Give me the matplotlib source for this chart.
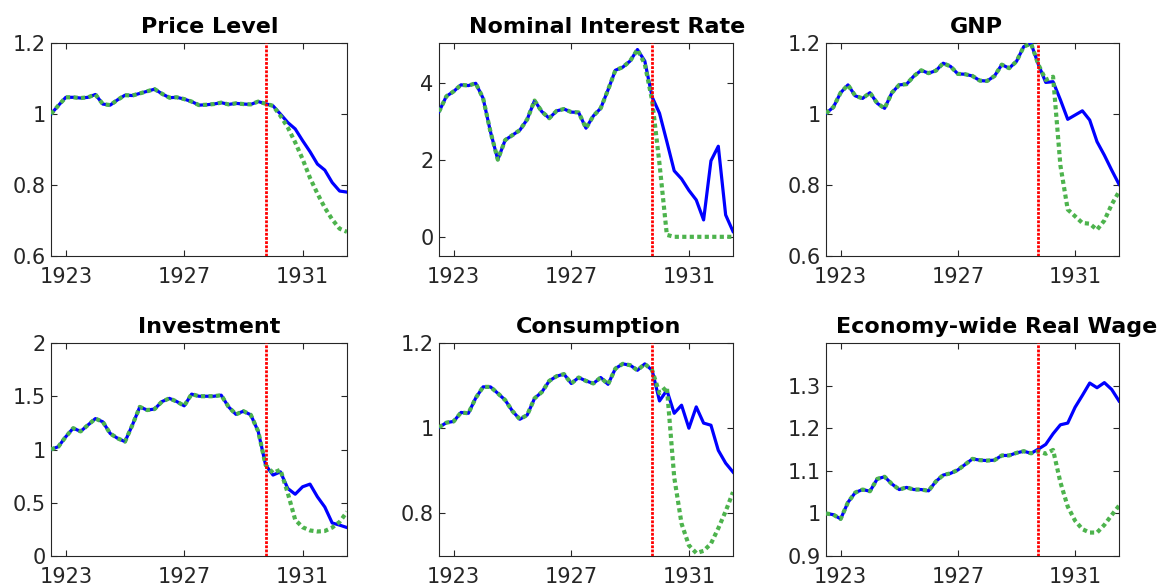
import matplotlib
matplotlib.use('Agg')

import matplotlib.pyplot as plt
from matplotlib.ticker import FuncFormatter
import numpy as np

# quarterly dates, 1922Q3 .. 1932Q3
START_YEAR = 1922.5
N_QUARTERS = 41
SHOCK_DATE = 1929.75
XTICKS = [1923, 1927, 1931]

# Price level
price_data = [1.000, 1.024, 1.047, 1.047, 1.045, 1.047, 1.055, 1.028, 1.025, 1.040,
              1.053, 1.052, 1.058, 1.064, 1.070, 1.057, 1.046, 1.047, 1.042, 1.035,
              1.025, 1.026, 1.028, 1.032, 1.027, 1.030, 1.028, 1.027, 1.035, 1.029,
              1.023, 1.000, 0.976, 0.958, 0.925, 0.894, 0.859, 0.842, 0.807, 0.783,
              0.780]
price_model = [1.000, 1.024, 1.047, 1.047, 1.045, 1.047, 1.055, 1.028, 1.025, 1.040,
               1.053, 1.052, 1.058, 1.064, 1.070, 1.057, 1.046, 1.047, 1.042, 1.035,
               1.025, 1.026, 1.028, 1.032, 1.027, 1.030, 1.028, 1.027, 1.035, 1.029,
               1.023, 0.995, 0.962, 0.920, 0.873, 0.820, 0.776, 0.736, 0.703, 0.677,
               0.668]

# Nominal interest rate
rate_data = [3.26, 3.66, 3.79, 3.96, 3.94, 4.00, 3.61, 2.74, 2.01, 2.52,
             2.65, 2.78, 3.06, 3.55, 3.26, 3.09, 3.28, 3.33, 3.25, 3.24,
             2.83, 3.15, 3.35, 3.83, 4.34, 4.42, 4.58, 4.88, 4.58, 3.64,
             3.22, 2.48, 1.72, 1.51, 1.21, 0.96, 0.44, 1.98, 2.36, 0.57,
             0.14]
rate_model = [3.26, 3.66, 3.79, 3.96, 3.94, 4.00, 3.61, 2.74, 2.01, 2.52,
              2.65, 2.78, 3.06, 3.55, 3.26, 3.09, 3.28, 3.33, 3.25, 3.24,
              2.83, 3.15, 3.35, 3.83, 4.34, 4.42, 4.58, 4.88, 4.50, 3.55,
              1.90, 0.05, 0.00, 0.00, 0.00, 0.00, 0.00, 0.00, 0.00, 0.00,
              0.00]

# GNP
gnp_data = [1.002, 1.019, 1.060, 1.082, 1.051, 1.044, 1.060, 1.030, 1.016, 1.060,
            1.082, 1.084, 1.107, 1.123, 1.115, 1.122, 1.143, 1.134, 1.113, 1.112,
            1.107, 1.094, 1.093, 1.107, 1.139, 1.129, 1.148, 1.190, 1.198, 1.139,
            1.089, 1.091, 1.040, 0.985, 0.997, 1.009, 0.983, 0.922, 0.884, 0.842,
            0.802]
gnp_model = [1.002, 1.019, 1.060, 1.082, 1.051, 1.044, 1.060, 1.030, 1.016, 1.060,
             1.082, 1.084, 1.107, 1.123, 1.115, 1.122, 1.143, 1.134, 1.113, 1.112,
             1.107, 1.094, 1.093, 1.107, 1.139, 1.129, 1.148, 1.190, 1.198, 1.139,
             1.096, 1.105, 0.855, 0.731, 0.712, 0.693, 0.691, 0.674, 0.700, 0.745,
             0.781]

# Investment
inv_data = [1.000, 1.027, 1.120, 1.200, 1.170, 1.230, 1.290, 1.260, 1.150, 1.105,
            1.074, 1.230, 1.400, 1.370, 1.380, 1.450, 1.480, 1.450, 1.410, 1.520,
            1.500, 1.500, 1.500, 1.510, 1.400, 1.330, 1.360, 1.325, 1.170, 0.855,
            0.760, 0.790, 0.634, 0.580, 0.650, 0.675, 0.556, 0.460, 0.310, 0.290,
            0.267]
inv_model = [1.000, 1.027, 1.120, 1.200, 1.170, 1.230, 1.290, 1.260, 1.150, 1.105,
             1.074, 1.230, 1.400, 1.370, 1.380, 1.450, 1.480, 1.450, 1.410, 1.520,
             1.500, 1.500, 1.500, 1.510, 1.400, 1.330, 1.360, 1.325, 1.170, 0.855,
             0.780, 0.810, 0.590, 0.340, 0.270, 0.240, 0.230, 0.235, 0.267, 0.320,
             0.415]

# Consumption
cons_data = [1.002, 1.013, 1.016, 1.037, 1.035, 1.071, 1.097, 1.097, 1.082, 1.066,
             1.040, 1.021, 1.031, 1.070, 1.085, 1.111, 1.122, 1.127, 1.105, 1.119,
             1.111, 1.105, 1.119, 1.103, 1.140, 1.151, 1.148, 1.136, 1.151, 1.136,
             1.064, 1.089, 1.035, 1.054, 1.000, 1.050, 1.012, 1.007, 0.948, 0.918,
             0.897]
cons_model = [1.002, 1.013, 1.016, 1.037, 1.035, 1.071, 1.097, 1.097, 1.082, 1.066,
              1.040, 1.021, 1.031, 1.070, 1.085, 1.111, 1.122, 1.127, 1.105, 1.119,
              1.111, 1.105, 1.119, 1.103, 1.140, 1.151, 1.148, 1.136, 1.151, 1.136,
              1.082, 1.097, 0.885, 0.776, 0.725, 0.707, 0.712, 0.729, 0.765, 0.805,
              0.850]

# Economy-wide real wage
wage_data = [1.000, 0.997, 0.987, 1.026, 1.049, 1.056, 1.052, 1.081, 1.086, 1.069,
             1.056, 1.061, 1.056, 1.056, 1.053, 1.075, 1.090, 1.094, 1.102, 1.115,
             1.128, 1.125, 1.124, 1.125, 1.136, 1.136, 1.142, 1.146, 1.141, 1.151,
             1.162, 1.187, 1.208, 1.212, 1.249, 1.277, 1.306, 1.295, 1.307, 1.291,
             1.264]
wage_model = [1.000, 0.997, 0.987, 1.026, 1.049, 1.056, 1.052, 1.081, 1.086, 1.069,
              1.056, 1.061, 1.056, 1.056, 1.053, 1.075, 1.090, 1.094, 1.102, 1.115,
              1.128, 1.125, 1.124, 1.125, 1.136, 1.136, 1.142, 1.146, 1.141, 1.146,
              1.140, 1.149, 1.073, 1.016, 0.983, 0.963, 0.955, 0.955, 0.973, 0.996,
              1.018]

titles = ['Price Level', 'Nominal Interest Rate', 'GNP',
          'Investment', 'Consumption', 'Economy-wide Real Wage']
data_series = [price_data, rate_data, gnp_data, inv_data, cons_data, wage_data]
model_series = [price_model, rate_model, gnp_model, inv_model, cons_model, wage_model]
ylims = [(0.6, 1.2), (-0.5, 5.05), (0.6, 1.2), (0, 2), (0.7, 1.2), (0.9, 1.4)]
yticks = [[0.6, 0.8, 1.0, 1.2], [0, 2, 4], [0.6, 0.8, 1.0, 1.2],
          [0, 0.5, 1, 1.5, 2], [0.8, 1.0, 1.2], [0.9, 1.0, 1.1, 1.2, 1.3]]

dates = START_YEAR + 0.25 * np.arange(N_QUARTERS)

W, H = 1160, 587
fig = plt.figure(figsize=(W / 100, H / 100), dpi=100)

# axes boxes in pixels: left, top, right, bottom
col_px = [(51, 347), (439, 733), (826, 1119)]
row_px = [(43, 256), (343, 556)]

axes = []
for i in range(6):
    r, c = divmod(i, 3)
    x0, x1 = col_px[c]
    y0, y1 = row_px[r]
    ax = fig.add_axes([x0 / W, 1 - y1 / H, (x1 - x0) / W, (y1 - y0) / H])
    axes.append(ax)

    ax.plot(dates, data_series[i], color='#0000FF', lw=2.3, zorder=3)
    ax.plot(dates, model_series[i], color='#4DB34D', lw=3.0,
            linestyle=(0, (1, 0.8)), zorder=4)
    ax.axvline(SHOCK_DATE, color='#FF0000', lw=2.0, linestyle=(0, (1, 0.5)), zorder=5)

    ax.set_xlim(dates[0], dates[-1])
    ax.set_ylim(*ylims[i])
    ax.set_xticks(XTICKS)
    ax.set_yticks(yticks[i])
    ax.yaxis.set_major_formatter(FuncFormatter(lambda v, p: f'{v:g}'))
    ax.tick_params(axis='both', direction='in', length=4.5, width=0.8,
                   top=True, right=True, labelsize=15, colors='#262626')
    ax.tick_params(axis='x', pad=8)
    ax.tick_params(axis='y', pad=4)
    for s in ax.spines.values():
        s.set_color('#262626')
        s.set_linewidth(0.8)

    ax.set_title(titles[i], fontsize=16, fontweight='bold', color='black', pad=7)

# titles sit a little right of centre in the reference
fig.canvas.draw()
renderer = fig.canvas.get_renderer()
for ax in axes:
    t = ax.title
    w = t.get_window_extent(renderer).width
    aw = ax.get_window_extent(renderer).width
    t.set_x(0.5 + 0.075 * w / aw)

fig.savefig('out.png', dpi=100)
